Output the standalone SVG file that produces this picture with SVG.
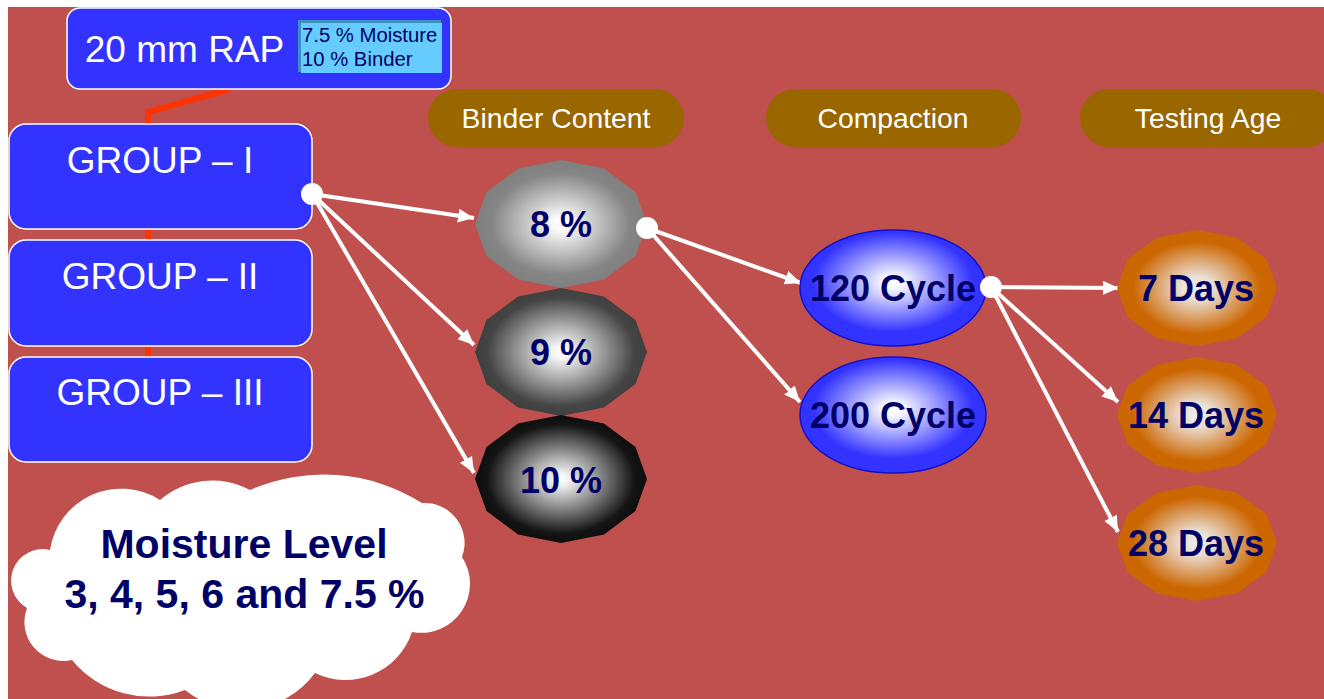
<svg xmlns="http://www.w3.org/2000/svg" width="1324" height="699" viewBox="0 0 1324 699">
<defs>
<style>
.box{fill:#3333FF;stroke:#FFFFFF;stroke-width:1.5}
.wt{font-family:"Liberation Sans",Arial,sans-serif;fill:#FFFFFF;text-anchor:middle}
.nv{font-family:"Liberation Sans",Arial,sans-serif;fill:#000066;font-weight:bold;text-anchor:middle;font-size:36px}
.big{font-size:41px}
.pill{fill:#996600}
.con{stroke:#FFFFFF;stroke-width:4;fill:none}
.dot{fill:#FFFFFF}
</style>
<marker id="ah" markerUnits="userSpaceOnUse" markerWidth="18" markerHeight="16" refX="16" refY="7" orient="auto">
<path d="M0,0 L16,7 L0,14 Z" fill="#FFFFFF"/>
</marker>
<radialGradient id="g8"><stop offset="0" stop-color="#FFFFFF"/><stop offset="0.1" stop-color="#FAFAFA"/><stop offset="0.8" stop-color="#858585"/><stop offset="1" stop-color="#7F7F7F"/></radialGradient>
<radialGradient id="g9"><stop offset="0" stop-color="#FFFFFF"/><stop offset="0.1" stop-color="#F5F5F5"/><stop offset="0.85" stop-color="#454545"/><stop offset="1" stop-color="#3F3F3F"/></radialGradient>
<radialGradient id="g10"><stop offset="0" stop-color="#FFFFFF"/><stop offset="0.1" stop-color="#F0F0F0"/><stop offset="0.85" stop-color="#151515"/><stop offset="1" stop-color="#0D0D0D"/></radialGradient>
<radialGradient id="gb" cx="0.5" cy="0.45" r="0.55"><stop offset="0" stop-color="#FFFFFF"/><stop offset="0.1" stop-color="#F8F8FF"/><stop offset="0.78" stop-color="#3333FF"/><stop offset="1" stop-color="#3333FF"/></radialGradient>
<radialGradient id="go" cx="0.5" cy="0.5" r="0.5"><stop offset="0" stop-color="#EEEEEE"/><stop offset="0.2" stop-color="#EADFD5"/><stop offset="0.8" stop-color="#CC6600"/><stop offset="1" stop-color="#CC6600"/></radialGradient>
<polygon id="pb" points="0,-64 43,-55.4 74.5,-32 86,0 74.5,32 43,55.4 0,64 -43,55.4 -74.5,32 -86,0 -74.5,-32 -43,-55.4"/>
<polygon id="pd" points="0,-58 40,-50.2 69.3,-29 80,0 69.3,29 40,50.2 0,58 -40,50.2 -69.3,29 -80,0 -69.3,-29 -40,-50.2"/>
</defs>

<rect x="0" y="0" width="1324" height="699" fill="#FFFFFF"/>
<rect x="8" y="7" width="1316" height="692" fill="#C0504D"/>

<g id="connectors">
<path d="M230,89 L148,112 L148,357" stroke="#FF3300" stroke-width="6" fill="none"/>
<line class="con" x1="312" y1="194" x2="474" y2="218" marker-end="url(#ah)"/>
<line class="con" x1="312" y1="194" x2="474" y2="345" marker-end="url(#ah)"/>
<line class="con" x1="312" y1="194" x2="474" y2="473" marker-end="url(#ah)"/>
<line class="con" x1="647" y1="228" x2="801" y2="283" marker-end="url(#ah)"/>
<line class="con" x1="647" y1="228" x2="800" y2="402" marker-end="url(#ah)"/>
<line class="con" x1="991" y1="287" x2="1119" y2="288" marker-end="url(#ah)"/>
<line class="con" x1="991" y1="287" x2="1118" y2="402" marker-end="url(#ah)"/>
<line class="con" x1="991" y1="287" x2="1118" y2="532" marker-end="url(#ah)"/>
</g>

<g id="rap">
<rect class="box" x="67" y="8" width="384" height="81" rx="13"/>
<text class="wt" x="184.5" y="62" font-size="37">20 mm RAP</text>
<rect x="298" y="20" width="143" height="52" fill="#3D8FBF"/>
<rect x="301" y="23" width="141" height="50" fill="#66CCFF"/>
<text x="302" y="42" font-family="Liberation Sans, Arial, sans-serif" font-size="20.3" fill="#000066">7.5 % Moisture</text>
<text x="302" y="66" font-family="Liberation Sans, Arial, sans-serif" font-size="20.3" fill="#000066">10 % Binder</text>
</g>

<g id="group1">
<rect class="box" x="9" y="124" width="303" height="105" rx="17"/>
<text class="wt" x="160" y="173" font-size="37">GROUP – I</text>
</g>
<g id="group2">
<rect class="box" x="9" y="240" width="303" height="106" rx="17"/>
<text class="wt" x="160" y="289" font-size="37">GROUP – II</text>
</g>
<g id="group3">
<rect class="box" x="9" y="357" width="303" height="105" rx="17"/>
<text class="wt" x="160" y="405" font-size="37">GROUP – III</text>
</g>

<g id="hdr-binder">
<rect class="pill" x="428" y="89" width="256" height="58" rx="29"/>
<text class="wt" x="556" y="128" font-size="28.3">Binder Content</text>
</g>
<g id="hdr-compaction">
<rect class="pill" x="766" y="89" width="255" height="58" rx="29"/>
<text class="wt" x="893" y="128" font-size="28.3">Compaction</text>
</g>
<g id="hdr-age">
<rect class="pill" x="1080" y="89" width="256" height="58" rx="29"/>
<text class="wt" x="1208" y="128" font-size="28.3">Testing Age</text>
</g>

<g id="b8">
<use href="#pb" x="561" y="224" fill="url(#g8)"/>
<text class="nv" x="561" y="237">8 %</text>
</g>
<g id="b9">
<use href="#pb" x="561" y="352" fill="url(#g9)"/>
<text class="nv" x="561" y="365">9 %</text>
</g>
<g id="b10">
<use href="#pb" x="561" y="479" fill="url(#g10)"/>
<text class="nv" x="561" y="493">10 %</text>
</g>

<g id="c120">
<ellipse cx="893" cy="288" rx="93" ry="58" fill="url(#gb)" stroke="#1010CC" stroke-width="1.5"/>
<text class="nv" x="893" y="301">120 Cycle</text>
</g>
<g id="c200">
<ellipse cx="893" cy="415" rx="93" ry="58" fill="url(#gb)" stroke="#1010CC" stroke-width="1.5"/>
<text class="nv" x="893" y="428">200 Cycle</text>
</g>

<g id="d7">
<use href="#pd" x="1197" y="288" fill="url(#go)"/>
<text class="nv" x="1196" y="301">7 Days</text>
</g>
<g id="d14">
<use href="#pd" x="1197" y="415" fill="url(#go)"/>
<text class="nv" x="1196" y="428">14 Days</text>
</g>
<g id="d28">
<use href="#pd" x="1197" y="543" fill="url(#go)"/>
<text class="nv" x="1196" y="556">28 Days</text>
</g>

<g id="dots">
<circle class="dot" cx="312" cy="194" r="11"/>
<circle class="dot" cx="647" cy="228" r="11"/>
<circle class="dot" cx="991" cy="287" r="11"/>
</g>

<g id="cloud">
<path fill="#FFFFFF" d="M50,550 A72,72 0 0 1 160,500 A80,80 0 0 1 250,490 A184,184 0 0 1 422,503 A40,40 0 0 1 462,557 A49,49 0 0 1 412,632 A70,70 0 0 1 315,673 A91,91 0 0 1 185,690 A100,100 0 0 1 72,660 A39,39 0 0 1 27,608 A31.5,31.5 0 0 1 50,550 Z"/>
<text class="nv big" x="244" y="558">Moisture Level</text>
<text class="nv big" x="244.5" y="608">3, 4, 5, 6 and 7.5 %</text>
</g>
</svg>
